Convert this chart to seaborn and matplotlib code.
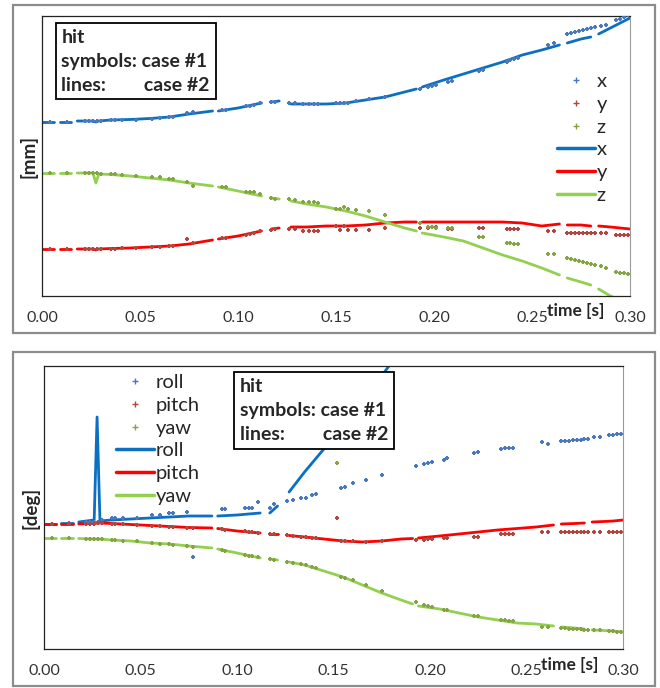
import pandas as pd
import matplotlib
matplotlib.use("Agg")
import matplotlib.pyplot as plt
import seaborn as sns
from matplotlib.lines import Line2D
from matplotlib.patches import Rectangle

# time grid of the case #2 lines (None in a series = gap in the record)
T_LINE = [0.000, 0.006, 0.007, 0.009, 0.015, 0.016, 0.018, 0.026, 0.0275, 0.029,
          0.035, 0.045, 0.055, 0.065, 0.075, 0.087, 0.088, 0.090, 0.100, 0.112,
          0.114, 0.117, 0.121, 0.123, 0.127, 0.135, 0.145, 0.155, 0.165, 0.175,
          0.185, 0.191, 0.192, 0.194, 0.205, 0.215, 0.225, 0.235, 0.245, 0.255,
          0.264, 0.266, 0.268, 0.275, 0.280, 0.282, 0.284, 0.290, 0.295, 0.300]

# sample times of the case #1 symbols
T_SYM = [0.004, 0.013, 0.022, 0.024, 0.026, 0.028, 0.030, 0.035, 0.037, 0.041,
         0.048, 0.056, 0.060, 0.065, 0.067, 0.074, 0.077, 0.092, 0.094, 0.104,
         0.106, 0.108, 0.111, 0.117, 0.119, 0.126, 0.129, 0.133, 0.136, 0.139,
         0.141, 0.150, 0.152, 0.154, 0.156, 0.160, 0.167, 0.175, 0.193, 0.197,
         0.199, 0.201, 0.207, 0.209, 0.223, 0.225, 0.237, 0.239, 0.241, 0.243,
         0.258, 0.261, 0.268, 0.270, 0.272, 0.274, 0.276, 0.278, 0.280, 0.282,
         0.285, 0.288, 0.293, 0.295, 0.297, 0.299]

# ---- position [mm] ----
X_LINE = [174, 174, None, 174, 174, None, 175, 175, 174, 175,
          176, 176.5, 177.5, 179, 182, 185, None, 185, 188, 193,
          None, 194, 195, None, 192, 192, 192, 193, 196, 199,
          204, 207, None, 209, 216, 222, 228, 234, 241, 246,
          251, None, 253, 257, 259, None, 262, 268, 273, 278]
Y_LINE = [47, 47, None, 47, 47, None, 47, 47, 46, 47,
          47.5, 48, 49, 50, 52, 56, None, 57, 60, 65,
          None, 67, 68, None, 69, 69, 70, 70, 71, 73,
          74, 74, None, 74, 74, 74, 74, 74, 73, 70,
          72, None, 71, 71, 70, None, 70, 69, 68, 67]
Z_LINE = [123, 123, None, 123, 123, None, 123, 123, 113, 122,
          121.5, 120, 118, 116, 113, 110, None, 109, 105, 100,
          None, 98, 97, None, 95, 92, 89, 85, 80, 74,
          68, 65, None, 63, 59, 55, 48, 41, 35, 28,
          21, None, 18, 14, 11, None, 7, 0, -4, -8]

X_SYM = [174, 174, 175, 175, 175, 175, 175, 176, 176, 176,
         176.5, 177.5, 178, 179, 179, 183, 184, 186, 186, 190,
         190, 191, 193, 194, 194, 193, 193, 192, 192, 192,
         192, 193, 193, 193, 193, 195, 197, 199, 207, 209,
         210, 211, 214, 215, 225, 226, 234, 236, 237, 238,
         251, 253, 262, 263, 264, 265, 266, 267, 268, 269,
         270, 271, 276, 277, 279, 281]
Y_SYM = [47, 47, 47, 47, 47, 47, 47, 47.5, 47.5, 48,
         48, 49, 49.5, 50, 50.5, 57, 53, 58, 58.5, 61,
         62, 63, 65, 66, 67, 67, 67, 65, 65, 65,
         65, 70, 66, 70, 66, 66, 66, 68, 68, 68,
         69, 69, 67, 67, 68, 68, 67, 67, 67, 67,
         65, 65, 63, 63, 63, 63, 63, 63, 63, 63,
         63, 63, 61, 61, 61, 61]
Z_SYM = [123, 123, 123, 123, 123, 123, 122, 122, 122, 121,
         120.5, 119.5, 119, 117, 117, 114, 110, 109, 109, 104,
         104, 104, 102, 98, 97, 97, 96, 94, 94, 94,
         93, 87, 87, 89, 87, 86, 85, 81, 73, 69,
         69, 68, 68, 68, 59, 59, 53, 53, 52, 52,
         42, 42, 38, 37, 36, 35, 34, 33, 32, 31,
         30, 28, 24, 23.5, 23, 22]

# ---- angles [deg] ----
ROLL_LINE = [125, 125, None, 126, 126, None, 127, 129, 232, 128,
             129, 130, 131, 132, 133, 133, None, 133, 134, 136,
             None, 136, 143, None, 157, 177, 200, 224, 251, 273,
             300, None, None, None, None, None, None, None, None, None,
             None, None, None, None, None, None, None, None, None, None]
PITCH_LINE = [125, 125, None, 125, 125, None, 125, 125.5, 126, 126,
              125.5, 124.5, 123.5, 122.5, 121.5, 121, None, 120.5, 118, 116,
              None, 115, 115, None, 113.5, 112, 110, 108, 107, 108,
              110, 110.5, None, 111, 113, 115, 117, 119, 120.5, 122,
              124, None, 125, 125.5, 126, None, 127, 127.5, 128, 129]
YAW_LINE = [111, 111, None, 111, 111, None, 110.5, 110, 110, 110,
            109, 108, 106, 105, 103, 101, None, 100, 96, 91,
            None, 90, 89, None, 87, 84, 78, 72, 64, 56,
            49, 45, None, 43, 40, 36, 32, 29, 26, 25,
            23, None, 22, 21, 20, None, 19, 18.5, 18, 17]

ROLL_SYM = [125, 126, 127, 127, 127, 127, 129, 131, 131, 131,
            131, 134, 134, 136, 136, 137, 92, 140, 140, 141,
            141, 141, 147, 141, 145, 148, 149, 151, 151, 154,
            155, None, None, 161, 162, 166, 169, 174, 183, 185,
            186, 187, 189, 191, 196, 197, 200, 201, 201, 201,
            207, 205, 208, 208, 208.5, 209, 209, 209.5, 210, 210,
            212, 212, 214, 214, 215, 215]
PITCH_SYM = [125, 125, 125, 125, 125.5, 126, 126, 125.5, 125.5, 125,
             124.5, 123.5, 123, 122.5, 122, 121.5, 121, 120, 119.5, 118,
             117, 117, 116, 115, 115, 114, 113, 112, 112, 111,
             111, None, 131, 108, 108, 108, 107.5, 108, 109, 109,
             110, 110, 111, 111, 112, 112, 115, 115, 115, 115,
             117, 117, 117, 117, 117, 117, 117, 117, 117, 117,
             117, 117, 117, 117, 117, 117]
YAW_SYM = [111, 111, 110.5, 110, 110, 110, 110, 109, 109, 108.5,
           108, 106, 105.5, 105, 104.5, 103, 102, 99, 98.5, 94,
           93.5, 93, 92, 90, 89.5, 87, 86.5, 85, 84, 82,
           81, None, 186, 72, 71, 69, 64, 58, 47, 44,
           43, 42, 39, 39, 33, 33, 29, 29, 28.5, 28,
           22, 22, 21, 21, 20.5, 20.5, 20, 20, 19.5, 19.5,
           19, 19, 18, 18, 17.5, 17]

SYM_COLORS = ["#4A78C0", "#B0463F", "#86A443"]
LINE_COLORS = ["#0B6FC2", "#FF0000", "#92D050"]
XTICKS = [0.00, 0.05, 0.10, 0.15, 0.20, 0.25, 0.30]
BOX_TEXT = "hit\nsymbols: case #1\nlines:        case #2"

sns.set_style("white")
plt.rcParams["font.family"] = ["Lato", "DejaVu Sans"]

fig = plt.figure(figsize=(6.6, 6.88), dpi=100)

# grey frames round each chart
for y0, h in [(1 - 333 / 688, 328 / 688), (1 - 686 / 688, 334 / 688)]:
    fig.patches.append(Rectangle((13 / 660, y0), 642 / 660, h, transform=fig.transFigure,
                                 fill=False, ec="#8c8c8c", lw=1.6))


def draw_panel(ax, names, sym_vals, line_vals, ylim, ylabel):
    for vals, col in zip(line_vals, LINE_COLORS):
        df = pd.DataFrame({"t": T_LINE, "v": pd.array(vals, dtype="Float64").astype(float)})
        df["seg"] = df["v"].isna().cumsum()
        df = df.dropna()
        sns.lineplot(data=df, x="t", y="v", units="seg", estimator=None, sort=False,
                     color=col, lw=2.0, ax=ax, legend=False)
    for vals, col in zip(sym_vals, SYM_COLORS):
        df = pd.DataFrame({"t": T_SYM, "v": pd.array(vals, dtype="Float64").astype(float)}).dropna()
        sns.scatterplot(data=df, x="t", y="v", marker="+", s=12, linewidth=1.5,
                        color=col, ax=ax, legend=False, zorder=3)

    ax.set_xlim(0, 0.30)
    ax.set_ylim(*ylim)
    ax.set_xticks(XTICKS)
    ax.set_xticklabels([f"{t:.2f}" for t in XTICKS])
    ax.set_yticks([])
    ax.tick_params(axis="x", direction="in", length=4, color="#9a9a9a",
                   labelsize=11.5, labelcolor="#333333", pad=11)
    for side in ["left", "bottom", "top"]:
        ax.spines[side].set_color("#222222")
        ax.spines[side].set_linewidth(0.9)
    ax.spines["right"].set_color("#9a9a9a")
    ax.set_xlabel("")
    ax.set_ylabel(ylabel, fontweight="bold", fontsize=13.5, labelpad=3)
    ax.text(0.908, -0.055, "time [s]", transform=ax.transAxes, ha="center",
            va="center", fontweight="bold", fontsize=12.5)

    handles = [Line2D([], [], ls="none", marker="+", ms=4, mew=1.0, color=c)
               for c in SYM_COLORS]
    handles += [Line2D([], [], color=c, lw=2.5) for c in LINE_COLORS]
    return handles, names + names


legend_kw = dict(frameon=False, fontsize=14.5, handlelength=1.9, handletextpad=0.1,
                 labelspacing=0.28, borderaxespad=0)
box_kw = dict(ha="left", va="top", fontweight="bold", fontsize=14, linespacing=1.5,
              bbox=dict(boxstyle="square,pad=0.3", fc="white", ec="black", lw=1.3))

# ---- top: position ----
ax1 = fig.add_axes([42 / 660, 1 - 296 / 688, 588 / 660, 280 / 688])
h, l = draw_panel(ax1, ["x", "y", "z"], [X_SYM, Y_SYM, Z_SYM],
                  [X_LINE, Y_LINE, Z_LINE], (0, 280), "[mm]")
ax1.legend(h, l, loc="upper right", bbox_to_anchor=(0.975, 0.825), **legend_kw)
ax1.text(0.033, 0.955, BOX_TEXT, transform=ax1.transAxes, **box_kw)

# ---- bottom: angles ----
ax2 = fig.add_axes([44 / 660, 1 - 649 / 688, 579 / 660, 283 / 688])
h, l = draw_panel(ax2, ["roll", "pitch", "yaw"], [ROLL_SYM, PITCH_SYM, YAW_SYM],
                  [ROLL_LINE, PITCH_LINE, YAW_LINE], (0, 283), "[deg]")
ax2.legend(h, l, loc="upper left", bbox_to_anchor=(0.11, 1.0), **legend_kw)
ax2.text(0.338, 0.958, BOX_TEXT, transform=ax2.transAxes, **box_kw)

fig.savefig("out.png", dpi=100)
